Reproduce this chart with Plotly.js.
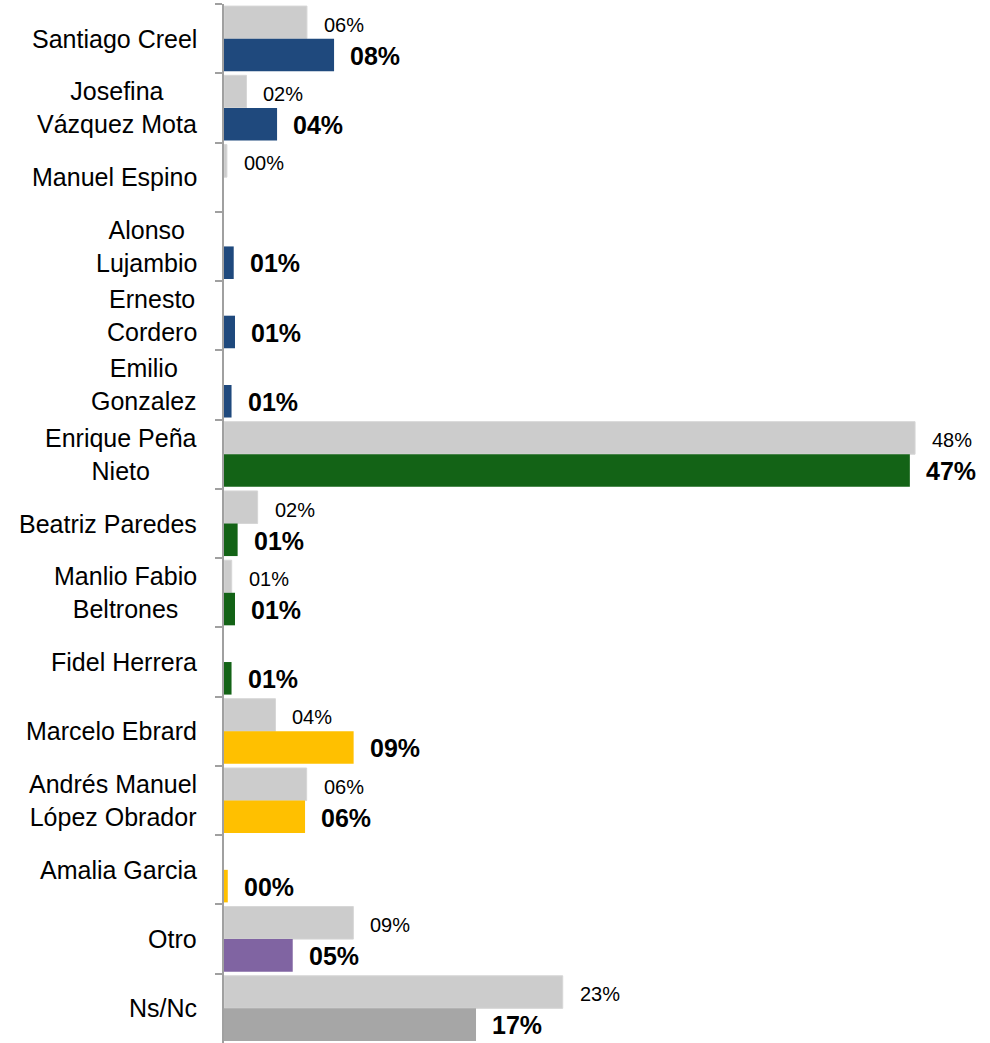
<!DOCTYPE html>
<html>
<head>
<meta charset="utf-8">
<script src="https://cdn.plot.ly/plotly-3.0.1.min.js"></script>
<style>html,body{margin:0;padding:0;background:#fff;}</style>
</head>
<body>
<div id="chart" style="width:990px;height:1043px;"></div>
<script>
const categories = [
  "Santiago Creel", "Josefina<br>Vázquez Mota", "Manuel Espino", "Alonso<br>Lujambio",
  "Ernesto<br>Cordero", "Emilio<br>Gonzalez", "Enrique Peña<br>Nieto", "Beatriz Paredes",
  "Manlio Fabio<br>Beltrones", "Fidel Herrera", "Marcelo Ebrard", "Andrés Manuel<br>López Obrador",
  "Amalia Garcia", "Otro", "Ns/Nc"
];
const previousValues = [5.72, 1.55, 0.2, null, null, null, 47.66, 2.32, 0.53, null, 3.55, 5.7, null, 8.92, 23.36];
const currentValues  = [7.59, 3.66, null, 0.67, 0.76, 0.52, 47.3, 0.94, 0.76, 0.52, 8.94, 5.59, 0.26, 4.74, 17.38];
const currentColors = [
  "#1F497D", "#1F497D", "#1F497D", "#1F497D", "#1F497D", "#1F497D",
  "#136316", "#136316", "#136316", "#136316",
  "#FFC000", "#FFC000", "#FFC000",
  "#8064A2", "#A6A6A6"
];

function fmt(v) {
  const r = Math.round(v);
  return (r < 10 ? "0" + r : "" + r) + "%";
}

const traces = [
  {
    type: "bar", orientation: "h", y: categories, x: previousValues,
    marker: { color: "#CCCCCC", line: { color: "#D6D6D6", width: 1 } },
    hoverinfo: "x+y", showlegend: false
  },
  {
    type: "bar", orientation: "h", y: categories, x: currentValues,
    marker: { color: currentColors },
    hoverinfo: "x+y", showlegend: false
  }
];

const annotations = [];
categories.forEach((c, i) => {
  annotations.push({
    xref: "paper", yref: "y", x: 0, y: c, xanchor: "right", yanchor: "middle",
    xshift: -25, align: "center", showarrow: false, text: c,
    font: { family: "Liberation Sans, Arial, sans-serif", size: 25, color: "#000" }
  });
  if (previousValues[i] !== null) {
    annotations.push({
      xref: "x", yref: "y", x: previousValues[i], y: c, xanchor: "left", yanchor: "middle",
      xshift: 15, yshift: 14, showarrow: false, text: fmt(previousValues[i]),
      font: { family: "Liberation Sans, Arial, sans-serif", size: 20, color: "#000" }
    });
  }
  if (currentValues[i] !== null) {
    annotations.push({
      xref: "x", yref: "y", x: currentValues[i], y: c, xanchor: "left", yanchor: "middle",
      xshift: 14, yshift: -17, showarrow: false, text: "<b>" + fmt(currentValues[i]) + "</b>",
      font: { family: "Liberation Sans, Arial, sans-serif", size: 25, color: "#000" }
    });
  }
});

const layout = {
  width: 990, height: 1043,
  margin: { l: 224, r: 10, t: 4, b: 0 },
  paper_bgcolor: "#fff", plot_bgcolor: "#fff",
  barmode: "group", bargap: 0.06, bargroupgap: 0,
  xaxis: { visible: false, range: [0, 756 / 14.5], fixedrange: true },
  yaxis: {
    type: "category", autorange: "reversed", showticklabels: false,
    ticks: "outside", tickson: "boundaries", ticklen: 7, tickwidth: 2, tickcolor: "#A0A0A0",
    showline: true, linecolor: "#A0A0A0", linewidth: 2, showgrid: false, zeroline: false
  },
  annotations: annotations,
  showlegend: false
};

Plotly.newPlot("chart", traces, layout, { displayModeBar: false, staticPlot: true });
</script>
</body>
</html>
